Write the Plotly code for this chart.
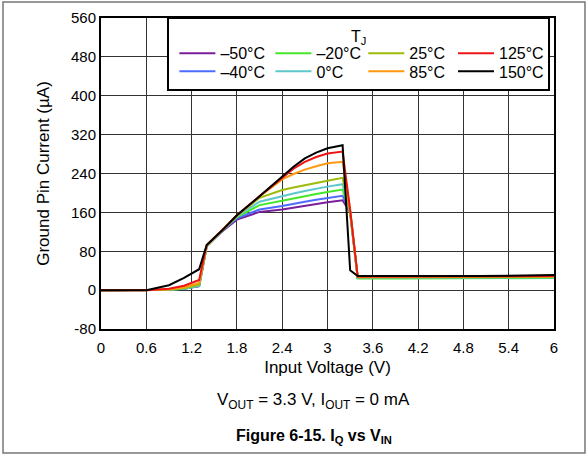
import plotly.graph_objects as go

# input voltage (V)
vin = [0, 0.6, 0.9, 1.1, 1.3, 1.4, 1.6, 1.8, 2.1, 2.4, 2.55, 2.7, 2.85, 3.0, 3.2, 3.3, 3.4, 4.0, 5.0, 6.0]

# ground pin current (uA) per junction temperature
iq_m50 = [0, 0, 1, 3, 8, 90, 120, 145, 161, 166, 170, 173, 177, 181, 185, 160, 25, 25, 25, 26]
iq_m40 = [0, 0, 1, 3, 8, 90, 121, 148, 166, 173, 178, 182, 186, 190, 194, 162, 25, 25, 25, 26]
iq_m20 = [0, 0, 1, 3, 9, 90, 122, 150, 175, 184, 189, 194, 198, 202, 207, 158, 24, 24, 24, 25]
iq_0 = [0, 0, 1, 3, 9, 91, 122, 152, 182, 194, 199, 204, 209, 213, 218, 160, 25, 25, 25, 26]
iq_25 = [0, 0, 1, 4, 11, 91, 123, 153, 190, 206, 211, 216, 221, 225, 231, 162, 26, 26, 26, 27]
iq_85 = [0, 0, 2, 6, 15, 92, 123, 154, 193, 228, 239, 248, 255, 261, 264, 165, 27, 27, 27, 28]
iq_125 = [0, 0, 3, 9, 21, 93, 123, 154, 193, 231, 250, 264, 274, 281, 285, 165, 28, 28, 28, 29]
iq_150 = [0, 0, 10, 25, 43, 93, 122, 154, 193, 233, 254, 271, 283, 292, 298, 41, 29, 29, 29, 31]

names = ["–50°C", "–40°C", "–20°C", "0°C", "25°C", "85°C", "125°C", "150°C"]
series = [iq_m50, iq_m40, iq_m20, iq_0, iq_25, iq_85, iq_125, iq_150]
colors = ["#7a1e9c", "#4d6bff", "#45e62a", "#5cc8cc", "#9dbb0a", "#ff9a10", "#ee1515", "#000000"]

xticks = [0, 0.6, 1.2, 1.8, 2.4, 3, 3.6, 4.2, 4.8, 5.4, 6]
xticklabels = ["0", "0.6", "1.2", "1.8", "2.4", "3", "3.6", "4.2", "4.8", "5.4", "6"]
yticks = [-80, 0, 80, 160, 240, 320, 400, 480, 560]
yticklabels = ["-80", "0", "80", "160", "240", "320", "400", "480", "560"]

# legend slot positions (paper coords), column-major like the datasheet
leg_x = [0.162, 0.162, 0.374, 0.374, 0.579, 0.579, 0.777, 0.777]
leg_y = [0.941, 0.883, 0.941, 0.883, 0.941, 0.883, 0.941, 0.883]

fig = go.Figure()
for i, (nm, ys, c) in enumerate(zip(names, series, colors)):
    lg = "legend" if i == 0 else "legend%d" % (i + 1)
    fig.add_trace(go.Scatter(x=vin, y=ys, mode="lines", name=nm,
                             line=dict(color=c, width=2), legend=lg))

font = dict(family="Liberation Sans, Arial, sans-serif", size=16, color="black")
layout_legends = {}
for i in range(8):
    key = "legend" if i == 0 else "legend%d" % (i + 1)
    layout_legends[key] = dict(x=leg_x[i], y=leg_y[i], xanchor="left", yanchor="top",
                               bgcolor="rgba(0,0,0,0)", borderwidth=0,
                               font=font, itemwidth=36)

fig.update_layout(
    width=586, height=456,
    margin=dict(l=101, r=32, t=18, b=127, autoexpand=False),
    paper_bgcolor="white", plot_bgcolor="white",
    font=font,
    showlegend=True,
    **layout_legends,
)

fig.update_xaxes(range=[0, 6], tickvals=xticks, ticktext=xticklabels, automargin=False,
                 showgrid=True, gridcolor="#333333", gridwidth=1,
                 showline=True, linecolor="black", linewidth=2, mirror=True,
                 zeroline=False, ticks="", tickfont=dict(size=15), ticklabelstandoff=4,
                 title=dict(text="Input Voltage (V)", font=dict(size=17), standoff=6))
fig.update_yaxes(range=[-80, 560], tickvals=yticks, ticktext=yticklabels, automargin=False,
                 showgrid=True, gridcolor="#333333", gridwidth=1,
                 showline=True, linecolor="black", linewidth=2, mirror=True,
                 zeroline=False, ticks="", tickfont=dict(size=15),
                 title=dict(text="Ground Pin Current (µA)", font=dict(size=17), standoff=17))

# legend box + title
fig.add_shape(type="rect", xref="paper", yref="paper", x0=0.1479, x1=0.989, y0=0.7685, y1=1.0,
              line=dict(color="black", width=2), fillcolor="white", layer="above")
fig.add_annotation(text="T<sub>J</sub>", xref="paper", yref="paper", x=0.5695, y=0.9357,
                   yanchor="middle", showarrow=False, font=dict(size=16))

# captions under the chart
fig.add_annotation(text="V<sub>OUT</sub> = 3.3 V, I<sub>OUT</sub> = 0 mA", xref="paper", yref="paper",
                   x=0.47, y=-0.2315, yanchor="middle", showarrow=False, font=dict(size=17))
fig.add_annotation(text="<b>Figure 6-15. I<sub>Q</sub> vs V<sub>IN</sub></b>", xref="paper", yref="paper",
                   x=0.47, y=-0.347, yanchor="middle", showarrow=False, font=dict(size=16))

# outer gray frame
fig.add_shape(type="rect", xref="paper", yref="paper", x0=-0.2163, x1=1.0684, y0=-0.3987, y1=1.0514,
              line=dict(color="#777777", width=1.5), fillcolor="rgba(0,0,0,0)", layer="below")

fig.write_html("out.html", config={"displayModeBar": False},
               post_script="document.body.style.margin='0px';")
